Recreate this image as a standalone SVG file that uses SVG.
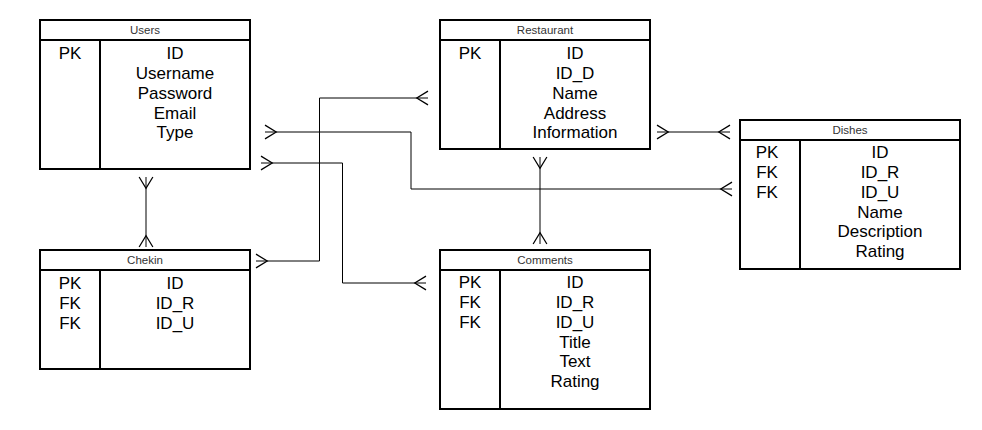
<svg xmlns="http://www.w3.org/2000/svg" width="982" height="430" viewBox="0 0 982 430">
<style>
.box{fill:#fff;stroke:#000;stroke-width:2}
.ln{stroke:#000;stroke-width:2}
.hd{font-family:"Liberation Sans",Arial,sans-serif;font-size:11.5px;fill:#333;text-anchor:middle}
.tx{font-family:"Liberation Sans",Arial,sans-serif;font-size:17px;fill:#000;text-anchor:middle}
.cn{fill:none;stroke:#000;stroke-width:1}
.mk{fill:none;stroke:#000;stroke-width:1}
</style>
<defs>
<marker id="many" markerUnits="userSpaceOnUse" markerWidth="20" markerHeight="20" refX="0" refY="0" viewBox="-12 -8 14 16" orient="auto-start-reverse" overflow="visible">
<path class="mk" d="M0,-5.5 L-9,0 L0,5.5"/>
</marker>
</defs>
<g id="connectors">
<path class="cn" d="M146,177 V247" marker-start="url(#many)" marker-end="url(#many)"/>
<path class="cn" d="M265,132 H411 V189 H732" marker-start="url(#many)" marker-end="url(#many)"/>
<path class="cn" d="M261,163 H342.5 V283 H426" marker-start="url(#many)" marker-end="url(#many)"/>
<path class="cn" d="M256,261 H319.5 V98 H428" marker-start="url(#many)" marker-end="url(#many)"/>
<path class="cn" d="M657,132 H730" marker-start="url(#many)" marker-end="url(#many)"/>
<path class="cn" d="M540,157 V244" marker-start="url(#many)" marker-end="url(#many)"/>
</g>
<g id="users">
<rect class="box" x="40" y="20" width="210" height="149"/>
<line class="ln" x1="40" y1="40" x2="250" y2="40"/>
<line class="ln" x1="100" y1="40" x2="100" y2="169"/>
<text class="hd" x="145" y="34">Users</text>
<text class="tx" x="70" y="59.3">PK</text>
<text class="tx" x="175" y="59.3">ID</text>
<text class="tx" x="175" y="79">Username</text>
<text class="tx" x="175" y="98.8">Password</text>
<text class="tx" x="175" y="118.5">Email</text>
<text class="tx" x="175" y="138.3">Type</text>
</g>
<g id="restaurant">
<rect class="box" x="440" y="20" width="210" height="129"/>
<line class="ln" x1="440" y1="40" x2="650" y2="40"/>
<line class="ln" x1="500" y1="40" x2="500" y2="149"/>
<text class="hd" x="545" y="34">Restaurant</text>
<text class="tx" x="470" y="59.3">PK</text>
<text class="tx" x="575" y="59.3">ID</text>
<text class="tx" x="575" y="79">ID_D</text>
<text class="tx" x="575" y="98.8">Name</text>
<text class="tx" x="575" y="118.5">Address</text>
<text class="tx" x="575" y="138.3">Information</text>
</g>
<g id="dishes">
<rect class="box" x="740" y="120" width="220" height="149"/>
<line class="ln" x1="740" y1="140" x2="960" y2="140"/>
<line class="ln" x1="800" y1="140" x2="800" y2="269"/>
<text class="hd" x="850" y="134">Dishes</text>
<text class="tx" x="767" y="158.3">PK</text>
<text class="tx" x="767" y="178">FK</text>
<text class="tx" x="767" y="197.8">FK</text>
<text class="tx" x="880" y="158.3">ID</text>
<text class="tx" x="880" y="178">ID_R</text>
<text class="tx" x="880" y="197.8">ID_U</text>
<text class="tx" x="880" y="217.5">Name</text>
<text class="tx" x="880" y="237.3">Description</text>
<text class="tx" x="880" y="257">Rating</text>
</g>
<g id="chekin">
<rect class="box" x="40" y="250" width="210" height="119"/>
<line class="ln" x1="40" y1="270" x2="250" y2="270"/>
<line class="ln" x1="100" y1="270" x2="100" y2="369"/>
<text class="hd" x="145" y="264">Chekin</text>
<text class="tx" x="70" y="289.3">PK</text>
<text class="tx" x="70" y="309">FK</text>
<text class="tx" x="70" y="328.8">FK</text>
<text class="tx" x="175" y="289.3">ID</text>
<text class="tx" x="175" y="309">ID_R</text>
<text class="tx" x="175" y="328.8">ID_U</text>
</g>
<g id="comments">
<rect class="box" x="440" y="250" width="210" height="159"/>
<line class="ln" x1="440" y1="270" x2="650" y2="270"/>
<line class="ln" x1="500" y1="270" x2="500" y2="409"/>
<text class="hd" x="545" y="264">Comments</text>
<text class="tx" x="470" y="288.3">PK</text>
<text class="tx" x="470" y="308">FK</text>
<text class="tx" x="470" y="327.8">FK</text>
<text class="tx" x="575" y="288.3">ID</text>
<text class="tx" x="575" y="308">ID_R</text>
<text class="tx" x="575" y="327.8">ID_U</text>
<text class="tx" x="575" y="347.5">Title</text>
<text class="tx" x="575" y="367.3">Text</text>
<text class="tx" x="575" y="387">Rating</text>
</g>
</svg>
